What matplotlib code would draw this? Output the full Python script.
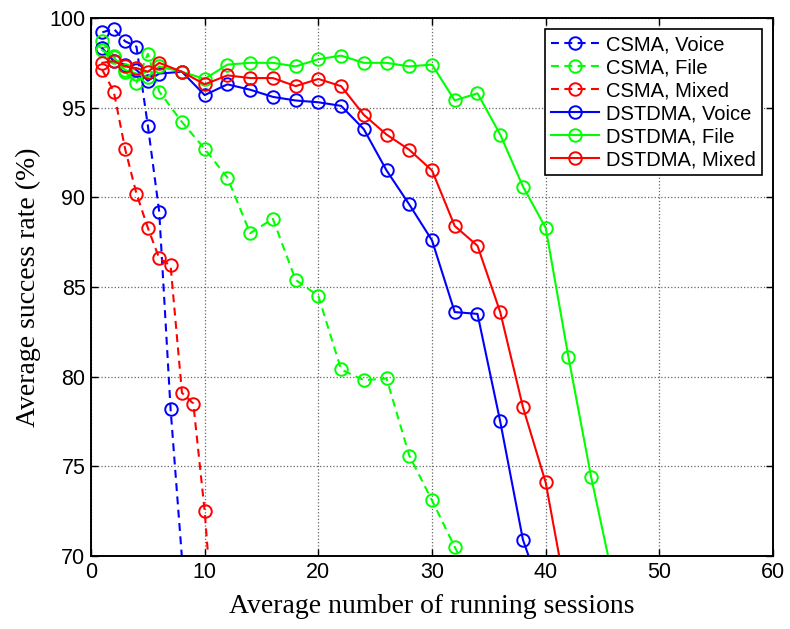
import numpy as np
import matplotlib.pyplot as plt

# session counts (x) and success rates (%)
x_csma_voice = [1, 2, 3, 4, 5, 6, 7, 8]
y_csma_voice = [99.2, 99.4, 98.7, 98.4, 94.0, 89.2, 78.2, 69.9]

x_csma_file = [1, 2, 3, 4, 5, 6, 8, 10, 12, 14, 16, 18, 20, 22, 24, 26, 28, 30, 32, 34]
y_csma_file = [98.7, 97.9, 97.0, 96.4, 98.0, 95.9, 94.2, 92.7, 91.1, 88.0, 88.8, 85.4,
               84.5, 80.4, 79.8, 79.9, 75.6, 73.1, 70.5, 68.0]

x_csma_mixed = [1, 2, 3, 4, 5, 6, 7, 8, 9, 10, 11]
y_csma_mixed = [97.1, 95.9, 92.7, 90.2, 88.3, 86.6, 86.2, 79.1, 78.5, 72.5, 64.2]

x_dst_voice = [1, 2, 3, 4, 5, 6, 8, 10, 12, 14, 16, 18, 20, 22, 24, 26, 28, 30, 32, 34, 36, 38, 40]
y_dst_voice = [98.3, 97.6, 97.4, 97.1, 96.5, 96.9, 97.0, 95.7, 96.3, 96.0, 95.6, 95.4,
               95.3, 95.1, 93.8, 91.5, 89.6, 87.6, 83.6, 83.5, 77.5, 70.9, 67.3]

x_dst_file = [1, 2, 3, 4, 5, 6, 8, 10, 12, 14, 16, 18, 20, 22, 24, 26, 28, 30, 32, 34,
              36, 38, 40, 42, 44, 46]
y_dst_file = [98.2, 97.8, 97.1, 96.9, 96.7, 97.3, 97.0, 96.6, 97.4, 97.5, 97.5, 97.3,
              97.7, 97.9, 97.5, 97.5, 97.3, 97.4, 95.4, 95.8, 93.5, 90.6, 88.3, 81.1,
              74.4, 68.5]

x_dst_mixed = [1, 2, 3, 4, 5, 6, 8, 10, 12, 14, 16, 18, 20, 22, 24, 26, 28, 30, 32, 34,
               36, 38, 40, 42]
y_dst_mixed = [97.5, 97.6, 97.3, 97.2, 97.0, 97.5, 97.0, 96.3, 96.8, 96.65, 96.65, 96.2,
               96.6, 96.2, 94.6, 93.5, 92.65, 91.5, 88.4, 87.3, 83.6, 78.3, 74.1, 67.2]

series = [
    (x_csma_voice, y_csma_voice, "b", "--", "CSMA, Voice"),
    (x_csma_file, y_csma_file, "#00ff00", "--", "CSMA, File"),
    (x_csma_mixed, y_csma_mixed, "r", "--", "CSMA, Mixed"),
    (x_dst_voice, y_dst_voice, "b", "-", "DSTDMA, Voice"),
    (x_dst_file, y_dst_file, "#00ff00", "-", "DSTDMA, File"),
    (x_dst_mixed, y_dst_mixed, "r", "-", "DSTDMA, Mixed"),
]

tick_font = "Liberation Sans"
label_font = "Liberation Serif"

fig = plt.figure(figsize=(7.9, 6.29), dpi=100)
ax = fig.add_axes([0.1152, 0.1161, 0.8633, 0.8553])

for xs, ys, c, ls, lab in series:
    # markers outside the y range are not drawn (MATLAB-like)
    show = [y >= 70 for y in ys]
    line, = ax.plot(xs, ys, color=c, linestyle=ls, linewidth=1.5, marker="o",
                    markersize=9, markerfacecolor="none", markeredgewidth=1.4,
                    markevery=show, label=lab)
    if ls == "--":
        line.set_dashes((3.8, 2.6))

ax.set_xlim(0, 60)
ax.set_ylim(70, 100)
ax.set_xticks(np.arange(0, 61, 10))
ax.set_yticks(np.arange(70, 101, 5))
ax.grid(True, linestyle=":", color="#666666", linewidth=0.9)
ax.tick_params(direction="in", top=True, right=True, length=5, width=1.0,
               labelsize=15.5, pad=4)
for lbl in ax.get_xticklabels() + ax.get_yticklabels():
    lbl.set_fontfamily(tick_font)
for s in ax.spines.values():
    s.set_linewidth(1.4)

ax.set_xlabel("Average number of running sessions", fontsize=20,
              fontfamily=label_font, labelpad=8)
ax.set_ylabel("Average success rate (%)", fontsize=20,
              fontfamily=label_font, labelpad=6)

leg = ax.legend(loc="upper right", prop={"family": tick_font, "size": 14.5},
                handlelength=2.4, handletextpad=0.35, borderpad=0.3,
                labelspacing=0.2, borderaxespad=0.55, fancybox=False,
                framealpha=1)
leg.get_frame().set_edgecolor("black")
leg.get_frame().set_linewidth(1.2)

fig.savefig("out.png", dpi=100)
